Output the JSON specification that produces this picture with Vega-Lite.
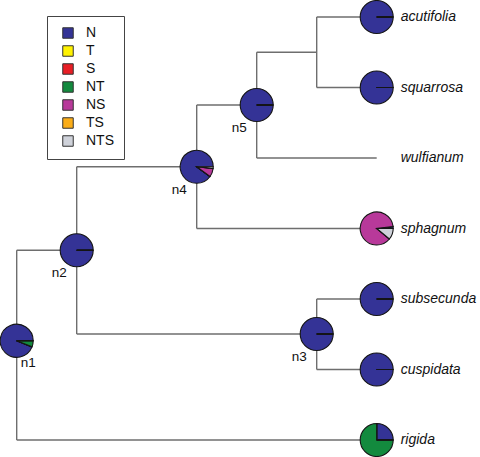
{
  "$schema": "https://vega.github.io/schema/vega-lite/v6.json",
  "width": 480,
  "height": 457,
  "autosize": "none",
  "padding": 0,
  "background": "white",
  "config": {"view": {"stroke": null}, "font": "Liberation Sans"},
  "datasets": {
    "nodes": [
      {"name": "n1", "x": 16.7, "y": 340.8, "tip": false, "N": 0.94, "T": 0, "S": 0, "NT": 0.06, "NS": 0, "TS": 0, "NTS": 0},
      {"name": "n2", "x": 76.7, "y": 250.3, "tip": false, "N": 1, "T": 0, "S": 0, "NT": 0, "NS": 0, "TS": 0, "NTS": 0},
      {"name": "n3", "x": 316.7, "y": 334, "tip": false, "N": 1, "T": 0, "S": 0, "NT": 0, "NS": 0, "TS": 0, "NTS": 0},
      {"name": "n4", "x": 196.7, "y": 166.8, "tip": false, "N": 0.9, "T": 0, "S": 0, "NT": 0, "NS": 0.083, "TS": 0, "NTS": 0.017},
      {"name": "n5", "x": 256.7, "y": 105, "tip": false, "N": 1, "T": 0, "S": 0, "NT": 0, "NS": 0, "TS": 0, "NTS": 0},
      {"name": "acutifolia", "x": 376.7, "y": 17, "tip": true, "N": 1, "T": 0, "S": 0, "NT": 0, "NS": 0, "TS": 0, "NTS": 0},
      {"name": "squarrosa", "x": 376.7, "y": 87.5, "tip": true, "N": 1, "T": 0, "S": 0, "NT": 0, "NS": 0, "TS": 0, "NTS": 0},
      {"name": "wulfianum", "x": 376.7, "y": 158, "tip": true},
      {"name": "sphagnum", "x": 376.7, "y": 228.5, "tip": true, "N": 0.02, "T": 0, "S": 0, "NT": 0, "NS": 0.87, "TS": 0, "NTS": 0.11},
      {"name": "subsecunda", "x": 376.7, "y": 299, "tip": true, "N": 1, "T": 0, "S": 0, "NT": 0, "NS": 0, "TS": 0, "NTS": 0},
      {"name": "cuspidata", "x": 376.7, "y": 369.5, "tip": true, "N": 1, "T": 0, "S": 0, "NT": 0, "NS": 0, "TS": 0, "NTS": 0},
      {"name": "rigida", "x": 376.7, "y": 440, "tip": true, "N": 0.25, "T": 0, "S": 0, "NT": 0.75, "NS": 0, "TS": 0, "NTS": 0}
    ],
    "edges": [
      {"x": 16.7, "y": 250.3, "x2": 16.7, "y2": 440},
      {"x": 76.7, "y": 166.8, "x2": 76.7, "y2": 334},
      {"x": 196.7, "y": 105, "x2": 196.7, "y2": 228.5},
      {"x": 256.7, "y": 52.3, "x2": 256.7, "y2": 158},
      {"x": 316.7, "y": 17, "x2": 316.7, "y2": 87.5},
      {"x": 316.7, "y": 299, "x2": 316.7, "y2": 369.5},
      {"x": 16.7, "y": 250.3, "x2": 76.7, "y2": 250.3},
      {"x": 16.7, "y": 440, "x2": 376.7, "y2": 440},
      {"x": 76.7, "y": 166.8, "x2": 196.7, "y2": 166.8},
      {"x": 76.7, "y": 334, "x2": 316.7, "y2": 334},
      {"x": 196.7, "y": 105, "x2": 256.7, "y2": 105},
      {"x": 196.7, "y": 228.5, "x2": 376.7, "y2": 228.5},
      {"x": 256.7, "y": 52.3, "x2": 316.7, "y2": 52.3},
      {"x": 256.7, "y": 158, "x2": 376.7, "y2": 158},
      {"x": 316.7, "y": 17, "x2": 376.7, "y2": 17},
      {"x": 316.7, "y": 87.5, "x2": 376.7, "y2": 87.5},
      {"x": 316.7, "y": 299, "x2": 376.7, "y2": 299},
      {"x": 316.7, "y": 369.5, "x2": 376.7, "y2": 369.5}
    ]
  },
  "encoding": {
    "x": {"field": "x", "type": "quantitative", "scale": {"domain": [0, 480], "nice": false, "zero": false}, "axis": null},
    "y": {"field": "y", "type": "quantitative", "scale": {"domain": [0, 457], "nice": false, "zero": false, "reverse": true}, "axis": null}
  },
  "layer": [
    {
      "data": {"name": "edges"},
      "mark": {"type": "rule", "color": "#6e6e6e", "strokeWidth": 1.4},
      "encoding": {
        "x2": {"field": "x2"},
        "y2": {"field": "y2"}
      }
    },
    {
      "data": {"name": "nodes"},
      "transform": [
        {"filter": "isValid(datum.N)"},
        {"fold": ["N", "T", "S", "NT", "NS", "TS", "NTS"], "as": ["state", "p"]},
        {"stack": "p", "groupby": ["name"], "offset": "normalize", "as": ["v0", "v1"]}
      ],
      "mark": {"type": "arc", "radius": 16.5, "stroke": "#151515", "strokeWidth": 1.1},
      "encoding": {
        "theta": {"field": "v0", "type": "quantitative", "scale": {"domain": [0, 1], "range": [1.5708, -4.7124]}},
        "theta2": {"field": "v1"},
        "color": {
          "field": "state", "type": "nominal",
          "scale": {"domain": ["N", "T", "S", "NT", "NS", "TS", "NTS"], "range": ["#343396", "#fff200", "#e81e25", "#138a3e", "#b8399a", "#fbad18", "#cfd2da"]},
          "legend": {
            "title": null, "orient": "none", "legendX": 47, "legendY": 16,
            "symbolType": "square", "symbolSize": 110, "symbolStrokeColor": "#333", "symbolStrokeWidth": 1,
            "symbolOpacity": 1,
            "labelFont": "Liberation Sans", "labelFontSize": 14, "labelColor": "#111",
            "labelOffset": 11, "symbolOffset": 4, "padding": 10, "rowPadding": 2,
            "strokeColor": "#444"
          }
        }
      }
    },
    {
      "data": {"name": "nodes"},
      "transform": [{"filter": "datum.tip"}],
      "mark": {"type": "text", "align": "left", "baseline": "middle", "dx": 24, "fontSize": 14, "fontStyle": "italic", "font": "Liberation Sans", "color": "#111"},
      "encoding": {"text": {"field": "name"}}
    },
    {
      "data": {"name": "nodes"},
      "transform": [{"filter": "!datum.tip && datum.name != 'n1'"}],
      "mark": {"type": "text", "align": "right", "baseline": "middle", "dx": -10, "dy": 23, "fontSize": 13.5, "font": "Liberation Sans", "color": "#111"},
      "encoding": {"text": {"field": "name"}}
    },
    {
      "data": {"name": "nodes"},
      "transform": [{"filter": "datum.name == 'n1'"}],
      "mark": {"type": "text", "align": "left", "baseline": "middle", "dx": 4, "dy": 22, "fontSize": 13.5, "font": "Liberation Sans", "color": "#111"},
      "encoding": {"text": {"field": "name"}}
    }
  ]
}
